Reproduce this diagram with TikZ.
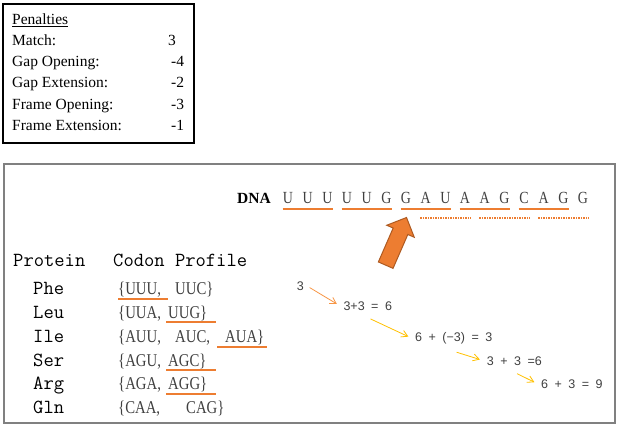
\documentclass[tikz,border=0pt]{standalone}
\usepackage{fontspec}
\setmainfont{Liberation Serif}
\newfontfamily\codonfont[FakeStretch = 0.82]{Liberation Serif}
\newfontfamily\scorefont{Liberation Sans}
\usetikzlibrary{arrows.meta, shapes.arrows}

\definecolor{hitorange}{HTML}{ED7D31}
\definecolor{hitedge}{HTML}{AE5A21}
\definecolor{firstorange}{HTML}{F79646}
\definecolor{sumyellow}{HTML}{FFC000}
\definecolor{scoregray}{HTML}{404040}
\definecolor{framegray}{HTML}{808080}

\begin{document}
\begin{tikzpicture}[
    x = 1pt, y = -1pt,
    penalty/.style = {anchor = base west, inner sep = 0,
      font = \fontsize{15.5}{18}\selectfont},
    nucleotide/.style = {anchor = base, inner sep = 0,
      minimum width = 10.5pt, text = scoregray,
      font = \codonfont\fontsize{17}{19}\selectfont},
    heading/.style = {anchor = base west, inner sep = 0,
      font = \ttfamily\fontsize{20}{24}\selectfont},
    codon/.style = {anchor = base west, inner sep = 0,
      text width = 50pt, align = left, text = scoregray,
      font = \codonfont\fontsize{18}{21}\selectfont},
    score/.style = {anchor = west, inner xsep = 3pt, inner ysep = 7pt,
      text = scoregray,
      font = {\scorefont\fontsize{12.5}{15}\selectfont\spaceskip = 6.5pt}},
    hit/.style = {draw = hitorange, line width = 2pt},
    shifted/.style = {hit, dash pattern = on 1.5pt off 1pt},
    gain/.style = {-{Straight Barb[angle = 60:7pt]}, line width = 0.8pt,
      shorten < = 3pt, shorten > = 4pt},
    ]

    \useasboundingbox (0, 0) rectangle (620, 433);

    % penalty table
    \draw [line width = 1.5pt] (3, 4) rectangle (194, 143);

    \node at (12, 25) [penalty, name = pen] {\underline{Penalties}};
    \node at (12, 46) [penalty, name = match] {Match:};
    \node at (168, 46) [penalty, name = match_v] {3};
    \node at (12, 67) [penalty, name = gapo] {Gap Opening:};
    \node at (171, 67) [penalty, name = gapo_v] {-4};
    \node at (12, 88) [penalty, name = gape] {Gap Extension:};
    \node at (171, 88) [penalty, name = gape_v] {-2};
    \node at (12, 109.5) [penalty, name = frameo] {Frame Opening:};
    \node at (171, 109.5) [penalty, name = frameo_v] {-3};
    \node at (12, 130.5) [penalty, name = framee] {Frame Extension:};
    \node at (171, 130.5) [penalty, name = framee_v] {-1};

    % profile frame
    \draw [framegray, line width = 2pt] (4, 164) rectangle (614.5, 423);

    % dna
    \node at (237, 203) [penalty, font = \bfseries\fontsize{15.5}{18}\selectfont,
    name = dna] {DNA};
    \node at (288.0, 203) [nucleotide, name = d1] {U};
    \node at (307.7, 203) [nucleotide, name = d2] {U};
    \node at (327.3, 203) [nucleotide, name = d3] {U};
    \node at (347.0, 203) [nucleotide, name = d4] {U};
    \node at (366.7, 203) [nucleotide, name = d5] {U};
    \node at (386.4, 203) [nucleotide, name = d6] {G};
    \node at (406.0, 203) [nucleotide, name = d7] {G};
    \node at (425.7, 203) [nucleotide, name = d8] {A};
    \node at (445.4, 203) [nucleotide, name = d9] {U};
    \node at (465.0, 203) [nucleotide, name = d10] {A};
    \node at (484.7, 203) [nucleotide, name = d11] {A};
    \node at (504.4, 203) [nucleotide, name = d12] {G};
    \node at (524.0, 203) [nucleotide, name = d13] {C};
    \node at (543.7, 203) [nucleotide, name = d14] {A};
    \node at (563.4, 203) [nucleotide, name = d15] {G};
    \node at (583.0, 203) [nucleotide, name = d16] {G};

    \draw [hit] ([yshift = -6pt]d1.base west) -- ([yshift = -6pt]d3.base east);
    \draw [hit] ([yshift = -6pt]d4.base west) -- ([yshift = -6pt]d6.base east);
    \draw [hit] ([yshift = -6pt]d7.base west) -- ([yshift = -6pt]d9.base east);
    \draw [hit] ([yshift = -6pt]d10.base west) -- ([yshift = -6pt]d12.base east);
    \draw [hit] ([yshift = -6pt]d13.base west) -- ([yshift = -6pt]d15.base east);

    \draw [shifted] ([yshift = -15pt]d8.base west) -- ([yshift = -15pt]d10.base east);
    \draw [shifted] ([yshift = -15pt]d11.base west) -- ([yshift = -15pt]d13.base east);
    \draw [shifted] ([yshift = -15pt]d14.base west) -- ([yshift = -15pt]d16.base east);

    \node at (394.5, 245)
    [single arrow, fill = hitorange, draw = hitedge, line width = 1pt,
      minimum height = 52pt, inner sep = 7.5pt,
      single arrow head extend = 7pt, rotate = 66.4, name = pointer] {};

    % codon profile
    \node at (13, 266.5) [heading, name = protein] {Protein};
    \node at (113, 266.5) [heading, name = profile] {Codon Profile};

    \node at (33, 294.5) [heading, name = phe] {Phe};
    \node at (33, 318) [heading, name = leu] {Leu};
    \node at (33, 342) [heading, name = ile] {Ile};
    \node at (33, 366) [heading, name = ser] {Ser};
    \node at (33, 389.5) [heading, name = arg] {Arg};
    \node at (33, 413) [heading, name = gln] {Gln};

    \node at (118, 294.5) [codon, name = phe1] {\{UUU,};
    \node at (175, 294.5) [codon, name = phe2] {UUC\}};
    \node at (118, 318) [codon, name = leu1] {\{UUA,};
    \node at (166, 318) [codon, name = leu2] {\hspace*{2pt}UUG\}};
    \node at (118, 342) [codon, name = ile1] {\{AUU,};
    \node at (175, 342) [codon, name = ile2] {AUC,};
    \node at (217, 342) [codon, name = ile3] {\hspace*{8pt}AUA\}};
    \node at (118, 366) [codon, name = ser1] {\{AGU,};
    \node at (166, 366) [codon, name = ser2] {\hspace*{2pt}AGC\}};
    \node at (118, 389.5) [codon, name = arg1] {\{AGA,};
    \node at (166, 389.5) [codon, name = arg2] {\hspace*{2pt}AGG\}};
    \node at (118, 413) [codon, name = gln1] {\{CAA,};
    \node at (186, 413) [codon, name = gln2] {CAG\}};

    \draw [hit] ([yshift = -4pt]phe1.base west) -- ([yshift = -4pt]phe1.base east);
    \draw [hit] ([yshift = -4pt]leu2.base west) -- ([yshift = -4pt]leu2.base east);
    \draw [hit] ([yshift = -5pt]ile3.base west) -- ([yshift = -5pt]ile3.base east);
    \draw [hit] ([yshift = -4pt]ser2.base west) -- ([yshift = -4pt]ser2.base east);
    \draw [hit] ([yshift = -4pt]arg2.base west) -- ([yshift = -4pt]arg2.base east);

    % running score
    \node at (293.7, 286) [score, name = s1] {3};
    \node at (340.3, 306) [score, name = s2] {3+3 = 6};
    \node at (412, 338.3) [score, name = s3] {6 + (−3) = 3};
    \node at (483.7, 360.7) [score, name = s4] {3 + 3 =6};
    \node at (538, 384) [score, name = s5] {6 + 3 = 9};

    \draw [gain, firstorange] (s1.east) -- (s2.west);
    \draw [gain, sumyellow] (s2.south) -- (s3.west);
    \draw [gain, sumyellow] (s3.south) -- (s4.west);
    \draw [gain, sumyellow] (s4.south) -- (s5.west);

  \end{tikzpicture}
\end{document}
